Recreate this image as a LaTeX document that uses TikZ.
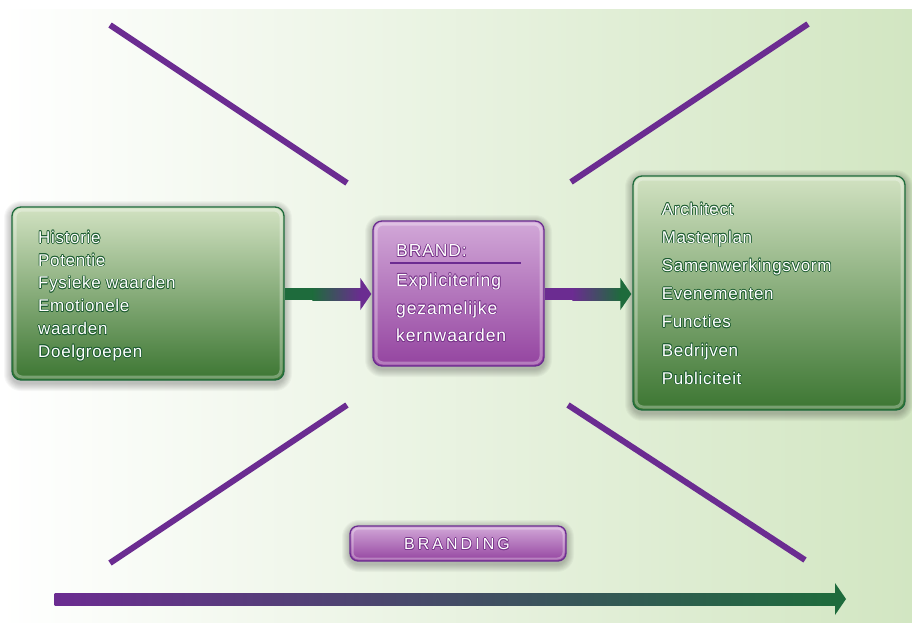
\documentclass[tikz,border=0pt]{standalone}
\usepackage{fontspec}
\setmainfont{Liberation Sans}
\newfontfamily\lsfont[LetterSpace=4]{Liberation Sans}
\newfontfamily\ctfont[LetterSpace=5]{Liberation Sans}
\newfontfamily\brfont[LetterSpace=19]{Liberation Sans}
\usetikzlibrary{calc}
\definecolor{brpurple}{RGB}{107,44,145}
\definecolor{brgreen}{RGB}{30,107,60}
\definecolor{bgg}{RGB}{210,230,194}
\definecolor{gtop}{RGB}{210,226,194}
\definecolor{gbot}{RGB}{60,118,50}
\definecolor{ptop}{RGB}{210,168,216}
\definecolor{pbot}{RGB}{148,68,160}
\definecolor{gglow}{RGB}{28,92,48}
\definecolor{pglow}{RGB}{120,52,138}
\newcommand\glw[2]{\leavevmode\rlap{\kern0.7pt\textcolor{#1}{#2}}\rlap{\kern-0.7pt\textcolor{#1}{#2}}\rlap{\raisebox{0.7pt}{\textcolor{#1}{#2}}}\rlap{\raisebox{-0.7pt}{\textcolor{#1}{#2}}}\rlap{\kern0.5pt\raisebox{0.5pt}{\textcolor{#1}{#2}}}\rlap{\kern-0.5pt\raisebox{-0.5pt}{\textcolor{#1}{#2}}}\rlap{\kern0.5pt\raisebox{-0.5pt}{\textcolor{#1}{#2}}}\rlap{\kern-0.5pt\raisebox{0.5pt}{\textcolor{#1}{#2}}}#2}
\newcommand\halo[4]{\foreach \k in {1,...,8}{\fill[black,opacity=0.03,rounded corners=9+\k] (#1-\k,#2-\k+2) rectangle (#3+\k,#4+\k+3);}}
\newcommand\rim[4]{\draw[white,opacity=0.3,line width=3,rounded corners=7] (#1+3,#2+3) rectangle (#3-3,#4-3);}
\newcommand\grarrow[5]{%
  \fill[#3] ($(#1)+(0,-6)$) rectangle ($(#1)+(#5,6)$);
  \shade[left color=#3,right color=#4] ($(#1)+(#5-0.3,-6)$) rectangle ($(#2)+(-10.5,6)$);
  \fill[#4] ($(#2)+(-11,-16)$) -- (#2) -- ($(#2)+(-11,16)$) -- cycle;}
\tikzset{
  diag/.style={draw=brpurple,line width=6},
  gbox/.style={draw=brgreen,line width=1.3,rounded corners=9,top color=gtop,bottom color=gbot,inner sep=0},
  pbox/.style={draw=brpurple,line width=1.3,rounded corners=9,top color=ptop,bottom color=pbot,inner sep=0},
  gtxt/.style={anchor=base west,inner sep=0,text=white,font=\lsfont\fontsize{17}{20}\selectfont},
  ptxt/.style={anchor=base west,inner sep=0,text=white,font=\ctfont\fontsize{17.5}{20}\selectfont},
}
\begin{document}
\begin{tikzpicture}[x=1pt,y=-1pt]
\useasboundingbox (0,0) rectangle (912,622);
\fill[white] (0,0) rectangle (912,622);
\shade[left color=white,right color=bgg] (0,9) rectangle (912,622);
% diagonal lines
\coordinate (d1a) at (110,25);  \coordinate (d1b) at (347,183);
\coordinate (d2a) at (808,24);  \coordinate (d2b) at (571,182);
\coordinate (d3a) at (347,405); \coordinate (d3b) at (110,563);
\coordinate (d4a) at (568,405); \coordinate (d4b) at (805,560);
\draw[diag] (d1a) -- (d1b);
\draw[diag] (d2a) -- (d2b);
\draw[diag] (d3a) -- (d3b);
\draw[diag] (d4a) -- (d4b);
% halos
\halo{12}{207}{284}{380}
\halo{373}{221}{544}{366}
\halo{633}{176}{905}{410}
\halo{350}{526}{566}{561}
% boxes
\node[gbox,minimum width=272,minimum height=173] (L) at (148,293.5) {};
\node[pbox,minimum width=171,minimum height=145] (C) at (458.5,293.5) {};
\node[gbox,minimum width=272,minimum height=234] (R) at (769,293) {};
\node[pbox,minimum width=216,minimum height=35,rounded corners=8] (B) at (458,543.5) {};
\rim{12}{207}{284}{380}
\rim{373}{221}{544}{366}
\rim{633}{176}{905}{410}
\draw[white,opacity=0.3,line width=2,rounded corners=6] (352.5,528.5) rectangle (563.5,558.5);
% arrows
\coordinate (a1s) at ($(L.east)+(0,0.5)$);
\coordinate (a1e) at ($(C.west)+(-1,0.5)$);
\grarrow{a1s}{a1e}{brgreen}{brpurple}{28}
\coordinate (a2s) at ($(C.east)+(0,0.5)$);
\coordinate (a2e) at ($(R.west)+(-1,1)$);
\grarrow{a2s}{a2e}{brpurple}{brgreen}{28}
\coordinate (a3s) at (55,599);
\coordinate (a3e) at (846,599);
\grarrow{a3s}{a3e}{brpurple}{brgreen}{0}
% texts
\foreach \t [count=\i] in {Historie,Potentie,Fysieke waarden,Emotionele,waarden,Doelgroepen}
  \node[gtxt] (lt\i) at (38,{243.3+22.8*(\i-1)}) {\glw{gglow}{\t}};
\foreach \t/\yy [count=\i] in {BRAND:/256.7,Explicitering/286,gezamelijke/314,kernwaarden/341.7}
  \node[ptxt] (ct\i) at (396,\yy) {\glw{pglow}{\t}};
\draw[brpurple,line width=1.8] (390,263.3) -- (521,263.3);
\foreach \t [count=\i] in {Architect,Masterplan,Samenwerkingsvorm,Evenementen,Functies,Bedrijven,Publiciteit}
  \node[gtxt] (rt\i) at (661.7,{215+28.2*(\i-1)}) {\glw{gglow}{\t}};
\node[text=white,inner sep=0,font=\brfont\fontsize{16}{16}\selectfont] (Bt) at ($(B)+(-1,0.5)$) {\glw{pglow}{BRANDING}};
\end{tikzpicture}
\end{document}
